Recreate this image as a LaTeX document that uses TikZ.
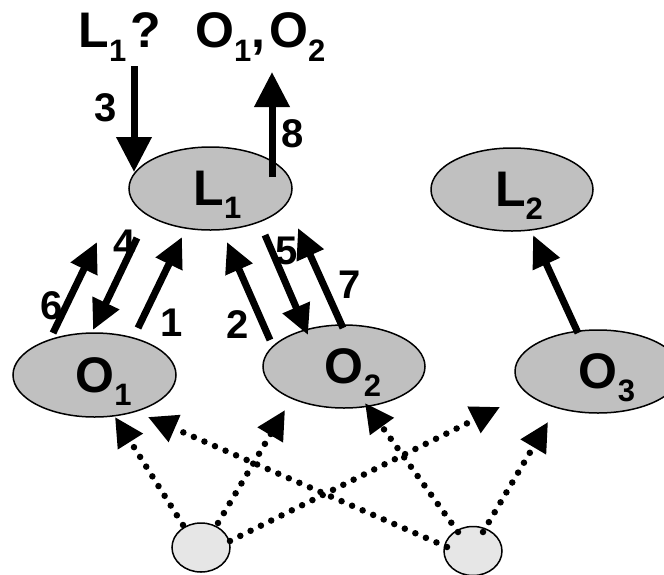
\documentclass[tikz,border=0pt]{standalone}
\usepackage{fontspec}
\setmainfont{Liberation Sans}
\usetikzlibrary{shapes.geometric,arrows.meta,calc}
\definecolor{ellgray}{HTML}{C0C0C0}
\definecolor{smallgray}{HTML}{E6E6E6}
\newcommand{\lbl}[2]{{\fontsize{50}{50}\selectfont\bfseries #1\raisebox{-13pt}[0pt][0pt]{\fontsize{31}{31}\selectfont #2}}}
\newcommand{\sbs}[1]{\raisebox{-14pt}[0pt][0pt]{\fontsize{31}{31}\selectfont #1}}
\begin{document}
\begin{tikzpicture}[x=1pt,y=-1pt,
  ell/.style={ellipse,draw=black,line width=1.5pt,fill=ellgray,inner sep=0pt},
  smallell/.style={ellipse,draw=black,line width=1.5pt,fill=smallgray,inner sep=0pt,minimum width=58pt,minimum height=49pt},
  txt/.style={inner sep=0pt},
  num/.style={inner sep=0pt,font=\fontsize{40}{40}\selectfont\bfseries},
  bigarrow/.style={line width=7pt,-{Triangle[length=35pt,width=34pt]}},
  midarrow/.style={line width=7pt,-{Triangle[length=30pt,width=28pt]}},
  dotarrow/.style={line width=6.5pt,line cap=round,dash pattern=on 0pt off 11.5pt,-{Triangle[length=29pt,width=28pt]}}
]
\useasboundingbox (0,0) rectangle (664,574);

% ellipses
\node[ell,minimum width=163pt,minimum height=83pt] (L1) at (210.5,188.5) {};
\node[ell,minimum width=162pt,minimum height=83pt] (L2) at (512,189.5) {};
\node[ell,minimum width=163pt,minimum height=84pt] (O1) at (94.5,375) {};
\node[ell,minimum width=162pt,minimum height=83pt] (O2) at (344,366.5) {};
\node[ell,minimum width=166pt,minimum height=83pt] (O3) at (598,371.5) {};
\node[smallell] (B1) at (201,547.5) {};
\node[smallell] (B2) at (473,551) {};

% texts in ellipses
\node[txt] (L1t) at ($(L1)+(7,0)$) {\lbl{L}{1}};
\node[txt] (L2t) at ($(L2)+(7,0)$) {\lbl{L}{2}};
\node[txt] (O1t) at ($(O1)+(9,0)$) {\lbl{O}{1}};
\node[txt] (O2t) at ($(O2)+(9,0)$) {\lbl{O}{2}};
\node[txt] (O3t) at ($(O3)+(9,0)$) {\lbl{O}{3}};

% top texts
\node[txt,anchor=base west] (Q) at (78.5,47) {\fontsize{50}{50}\selectfont\bfseries L\sbs{1}\kern4pt?};
\node[txt,anchor=base west] (R) at (195,47) {\fontsize{50}{50}\selectfont\bfseries O\sbs{1},\kern4pt O\sbs{2}};

% coordinates for arrow ends
\coordinate (a3s) at (134,66);   \coordinate (a3e) at (134,172);
\coordinate (a8s) at (272,177);  \coordinate (a8e) at (272,72);
\coordinate (a6s) at (53,333);   \coordinate (a6e) at (97,242);
\coordinate (a4s) at (137,238);  \coordinate (a4e) at (93,330);
\coordinate (a1s) at (138,328);  \coordinate (a1e) at (182,237);
\coordinate (a2s) at (270,340);  \coordinate (a2e) at (227,242);
\coordinate (a5s) at (265,235);  \coordinate (a5e) at (308,335);
\coordinate (a7s) at (343,328);  \coordinate (a7e) at (298,228);
\coordinate (a9s) at (578,333);  \coordinate (a9e) at (533,235);

\draw[bigarrow] (a3s) -- (a3e);
\draw[bigarrow] (a8s) -- (a8e);
\draw[midarrow] (a6s) -- (a6e);
\draw[midarrow] (a4s) -- (a4e);
\draw[midarrow] (a1s) -- (a1e);
\draw[midarrow] (a2s) -- (a2e);
\draw[midarrow] (a5s) -- (a5e);
\draw[midarrow] (a7s) -- (a7e);
\draw[line width=7pt,-{Triangle[length=32pt,width=28pt]}] (a9s) -- (a9e);

% number labels
\node[num] (n3) at (106,108) {3};
\node[num] (n8) at (293,134) {8};
\node[num] (n6) at (52,306) {6};
\node[num] (n4) at (125,244) {4};
\node[num] (n1) at (172,323) {1};
\node[num] (n2) at (238,325) {2};
\node[num] (n5) at (287,251) {5};
\node[num] (n7) at (350,285) {7};

% dotted arrows
\coordinate (d1s) at (183,525); \coordinate (d1e) at (115,417);
\coordinate (d2s) at (218,523); \coordinate (d2e) at (285,410);
\coordinate (d3s) at (230,541); \coordinate (d3e) at (500,407);
\coordinate (d4s) at (447,547); \coordinate (d4e) at (148,417);
\coordinate (d5s) at (458,532); \coordinate (d5e) at (365,403);
\coordinate (d6s) at (483,532); \coordinate (d6e) at (548,422);
\draw[dotarrow] (d1s) -- (d1e);
\draw[dotarrow] (d2s) -- (d2e);
\draw[dotarrow] (d3s) -- (d3e);
\draw[dotarrow] (d4s) -- (d4e);
\draw[dotarrow] (d5s) -- (d5e);
\draw[dotarrow] (d6s) -- (d6e);
\end{tikzpicture}
\end{document}
